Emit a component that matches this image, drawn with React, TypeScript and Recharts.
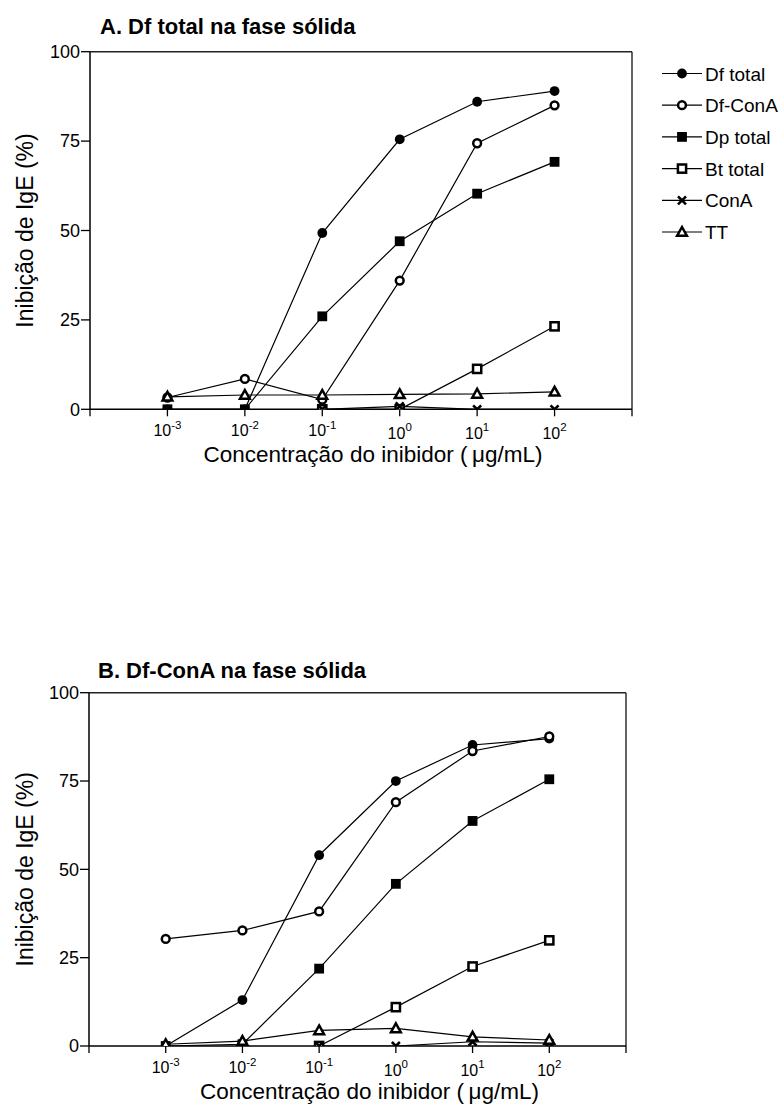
import React from 'react';
import { LineChart, Line, XAxis, YAxis, ReferenceLine, Legend } from 'recharts';

const FONT = '"Liberation Sans", Arial, Helvetica, sans-serif';

// x positions are log10 of concentration (µg/mL)
const exponents = [-3, -2, -1, 0, 1, 2];
const xTicks = [-4, -3, -2, -1, 0, 1, 2, 3];
const yTicks = [0, 25, 50, 75, 100];

const seriesNames = ['Df total', 'Df-ConA', 'Dp total', 'Bt total', 'ConA', 'TT'];
const seriesKeys = ['dfTotal', 'dfConA', 'dpTotal', 'btTotal', 'conA', 'tt'];
const seriesShapes = ['filledCircle', 'openCircle', 'filledSquare', 'openSquare', 'cross', 'triangle'];

// Panel A: Df total na fase sólida
const aDfTotal = [0, 0, 49.3, 75.5, 86, 89];
const aDfConA = [3.3, 8.5, 2.7, 36, 74.4, 85];
const aDpTotal = [0, 0, 26, 47, 60.3, 69.2];
const aBtTotal = [null, null, 0, 0, 11.3, 23.2];
const aConA = [null, null, 0, 0.8, 0, 0];
const aTT = [3.5, 4, 4, 4.2, 4.3, 4.9];

// Panel B: Df-ConA na fase sólida
const bDfTotal = [0, 13, 54, 75, 85.2, 87];
const bDfConA = [30.3, 32.7, 38.1, 69, 83.5, 87.6];
const bDpTotal = [0, 0.5, 21.9, 45.9, 63.7, 75.5];
const bBtTotal = [null, null, 0, 11, 22.5, 29.9];
const bConA = [null, null, 0, 0, 1.2, 0.8];
const bTT = [0.5, 1.4, 4.4, 5, 2.6, 1.7];

const titleA = 'A. Df total na fase sólida';
const titleB = 'B. Df-ConA na fase sólida';
const xLabel = 'Concentração do inibidor (\u2009μg/mL)';
const yLabel = 'Inibição de IgE (%)';

function buildRows(series: (number | null)[][]) {
  return exponents.map((e, i) => {
    const row: any = { x: e };
    seriesKeys.forEach((k, j) => {
      row[k] = series[j][i];
    });
    return row;
  });
}

const dataA = buildRows([aDfTotal, aDfConA, aDpTotal, aBtTotal, aConA, aTT]);
const dataB = buildRows([bDfTotal, bDfConA, bDpTotal, bBtTotal, bConA, bTT]);

function Marker({ shape, cx, cy }: { shape: string; cx: any; cy: any }) {
  if (cx == null || cy == null || Number.isNaN(cx) || Number.isNaN(cy)) return <g />;
  switch (shape) {
    case 'filledCircle':
      return <circle cx={cx} cy={cy} r={4.9} fill="#000" />;
    case 'openCircle':
      return <circle cx={cx} cy={cy} r={3.9} fill="#fff" stroke="#000" strokeWidth={2.5} />;
    case 'filledSquare':
      return <rect x={cx - 4.9} y={cy - 4.9} width={9.8} height={9.8} fill="#000" />;
    case 'openSquare':
      return <rect x={cx - 4.1} y={cy - 4.1} width={8.2} height={8.2} fill="#fff" stroke="#000" strokeWidth={2.5} />;
    case 'cross':
      return (
        <path
          d={`M${cx - 4},${cy - 4}L${cx + 4},${cy + 4}M${cx + 4},${cy - 4}L${cx - 4},${cy + 4}`}
          stroke="#000"
          strokeWidth={2.6}
          fill="none"
        />
      );
    case 'triangle':
      return (
        <path
          d={`M${cx},${cy - 5}L${cx + 4.9},${cy + 3.8}L${cx - 4.9},${cy + 3.8}Z`}
          fill="#fff"
          stroke="#000"
          strokeWidth={2.5}
          strokeLinejoin="miter"
        />
      );
    default:
      return <g />;
  }
}

const XTick = (props: any) => {
  const { x, y, payload } = props;
  const v = payload.value;
  if (v < -3 || v > 2) return <g />;
  // y = axis + tickSize + tickMargin (7 + 2)
  const base = v < 0 ? y + 18 : y + 21;
  return (
    <text x={x} y={base} textAnchor="middle" fontSize={16} fill="#000" fontFamily={FONT}>
      <tspan>10</tspan>
      <tspan fontSize={11.5} dy={v < 0 ? -7 : -8.5}>{String(v)}</tspan>
    </text>
  );
};

const XLabelContent = (props: any) => {
  const vb = props.viewBox || {};
  const cx = (vb.x ?? 90) + (vb.width ?? 540) / 2 + 12;
  const y = (vb.y ?? 408) + 52.5;
  return (
    <text x={cx} y={y} textAnchor="middle" fontSize={22.5} fill="#000" fontFamily={FONT}>
      {xLabel}
    </text>
  );
};

const YLabelContent = (props: any) => {
  const vb = props.viewBox || {};
  const cx = 33;
  const cy = (vb.y ?? 52) + (vb.height ?? 356) / 2;
  return (
    <text
      x={cx}
      y={cy}
      transform={`rotate(-90 ${cx} ${cy})`}
      textAnchor="middle"
      fontSize={23}
      fill="#000"
      fontFamily={FONT}
    >
      {yLabel}
    </text>
  );
};

const LegendContent = () => (
  <svg width={130} height={200} style={{ overflow: 'visible' }}>
    {seriesNames.map((n, i) => {
      const y = 16.5 + i * 31.7;
      return (
        <g key={n}>
          <line x1={7} x2={47} y1={y} y2={y} stroke="#000" strokeWidth={1.2} />
          <Marker shape={seriesShapes[i]} cx={27} cy={y} />
          <text x={50} y={y + 7} fontSize={19} fill="#000" fontFamily={FONT}>
            {n}
          </text>
        </g>
      );
    })}
  </svg>
);

function Panel({
  data,
  width,
  height,
  margin,
  yAxisWidth,
  showLegend,
}: {
  data: any[];
  width: number;
  height: number;
  margin: any;
  yAxisWidth: number;
  showLegend: boolean;
}) {
  return (
    <LineChart width={width} height={height} data={data} margin={margin}>
      <XAxis
        type="number"
        dataKey="x"
        domain={[-4, 3]}
        ticks={xTicks}
        interval={0}
        allowDataOverflow
        height={40}
        tickSize={7}
        tickMargin={2}
        axisLine={{ stroke: '#000', strokeWidth: 1.5 }}
        tickLine={{ stroke: '#000', strokeWidth: 1.3 }}
        tick={<XTick />}
        label={{ content: XLabelContent } as any}
      />
      <YAxis
        type="number"
        domain={[0, 100]}
        ticks={yTicks}
        interval={0}
        allowDataOverflow
        width={yAxisWidth}
        tickSize={9}
        tickMargin={1}
        axisLine={{ stroke: '#000', strokeWidth: 1.5 }}
        tickLine={{ stroke: '#000', strokeWidth: 1.3 }}
        tick={{ fontSize: 18, fill: '#000', fontFamily: FONT }}
        label={{ content: YLabelContent } as any}
      />
      <ReferenceLine y={100} stroke="#222" strokeWidth={1.4} />
      <ReferenceLine x={3} stroke="#222" strokeWidth={1.4} />
      {seriesKeys.map((k, i) => (
        <Line
          key={k}
          type="linear"
          dataKey={k}
          name={seriesNames[i]}
          stroke="#000"
          strokeWidth={1.2}
          isAnimationActive={false}
          connectNulls={false}
          activeDot={false}
          dot={(p: any) => (
            <Marker key={`${k}-${p.index}`} shape={seriesShapes[i]} cx={p.cx} cy={p.cy} />
          )}
        />
      ))}
      {showLegend && (
        <Legend
          layout="vertical"
          align="center"
          verticalAlign="middle"
          content={LegendContent as any}
          wrapperStyle={{ left: 655, top: 57, width: 130, height: 200 }}
        />
      )}
    </LineChart>
  );
}

export default function App() {
  return (
    <div
      style={{
        position: 'absolute',
        left: 0,
        top: 0,
        width: 784,
        height: 1113,
        background: '#fff',
        fontFamily: FONT,
        overflow: 'hidden',
      }}
    >
      <div style={{ position: 'absolute', left: 0, top: 0 }}>
        <Panel
          data={dataA}
          width={784}
          height={480}
          margin={{ top: 51.7, right: 152, bottom: 30.7, left: 0 }}
          yAxisWidth={90}
          showLegend={true}
        />
      </div>
      <div style={{ position: 'absolute', left: 0, top: 640 }}>
        <Panel
          data={dataB}
          width={784}
          height={473}
          margin={{ top: 52.7, right: 158, bottom: 27, left: 0 }}
          yAxisWidth={89}
          showLegend={false}
        />
      </div>
      <svg
        width={784}
        height={1113}
        style={{ position: 'absolute', left: 0, top: 0, pointerEvents: 'none' }}
      >
        <text x={100} y={34} fontSize={22} fontWeight="bold" fill="#000" fontFamily={FONT}>
          {titleA}
        </text>
        <text x={98} y={678} fontSize={22} fontWeight="bold" fill="#000" fontFamily={FONT}>
          {titleB}
        </text>
      </svg>
    </div>
  );
}
